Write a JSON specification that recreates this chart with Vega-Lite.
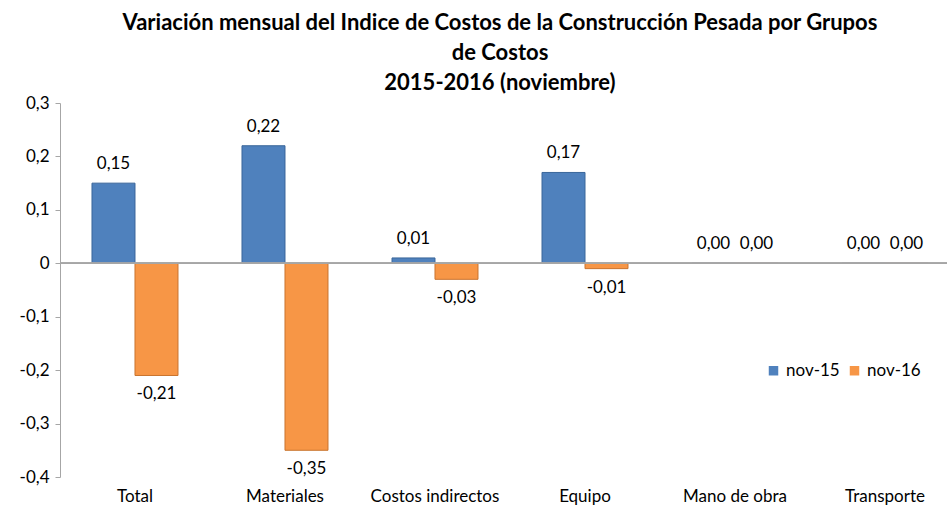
{
  "$schema": "https://vega.github.io/schema/vega-lite/v6.json",
  "autosize": "none",
  "width": 900,
  "height": 374,
  "padding": {"left": 60, "top": 103, "right": 0, "bottom": 38},
  "background": "white",
  "config": {
    "locale": {"number": {"decimal": ",", "thousands": ".", "grouping": [3], "currency": ["", ""], "minus": "-"}},
    "font": "Lato",
    "view": {"stroke": null}
  },
  "title": {
    "text": ["Variación mensual del Indice de Costos de la Construcción Pesada por Grupos", "de Costos", "2015-2016 (noviembre)"],
    "fontSize": 22,
    "fontWeight": "bold",
    "color": "#000000",
    "anchor": "middle",
    "frame": "group",
    "dx": -10,
    "dy": 6,
    "lineHeight": 30,
    "offset": 5
  },
  "data": {
    "values": [
      {"grupo": "Total", "serie": "nov-15", "valor": 0.15},
      {"grupo": "Total", "serie": "nov-16", "valor": -0.21},
      {"grupo": "Materiales", "serie": "nov-15", "valor": 0.22},
      {"grupo": "Materiales", "serie": "nov-16", "valor": -0.35},
      {"grupo": "Costos indirectos", "serie": "nov-15", "valor": 0.01},
      {"grupo": "Costos indirectos", "serie": "nov-16", "valor": -0.03},
      {"grupo": "Equipo", "serie": "nov-15", "valor": 0.17},
      {"grupo": "Equipo", "serie": "nov-16", "valor": -0.01},
      {"grupo": "Mano de obra", "serie": "nov-15", "valor": 0.0},
      {"grupo": "Mano de obra", "serie": "nov-16", "valor": 0.0},
      {"grupo": "Transporte", "serie": "nov-15", "valor": 0.0},
      {"grupo": "Transporte", "serie": "nov-16", "valor": 0.0}
    ]
  },
  "encoding": {
    "x": {
      "field": "grupo", "type": "nominal", "sort": null,
      "scale": {"paddingInner": 0.4267, "paddingOuter": 0.2133},
      "axis": {"title": null, "labelAngle": 0, "domain": false, "ticks": false, "labelFontSize": 17, "labelColor": "#000000", "labelPadding": 11}
    },
    "xOffset": {"field": "serie", "type": "nominal", "sort": ["nov-15", "nov-16"], "scale": {"paddingInner": 0, "paddingOuter": 0}},
    "y": {
      "field": "valor", "type": "quantitative",
      "scale": {"domain": [-0.4, 0.3], "nice": false, "zero": false},
      "axis": {
        "title": null, "grid": false,
        "values": [-0.4, -0.3, -0.2, -0.1, 0, 0.1, 0.2, 0.3],
        "labelExpr": "replace(format(datum.value, '.1~f'), '.', ',')",
        "labelFontSize": 17, "labelColor": "#000000", "labelPadding": 6,
        "domainColor": "#a6a6a6", "tickColor": "#a6a6a6", "tickSize": 5
      }
    }
  },
  "layer": [
    {
      "mark": {"type": "bar", "strokeWidth": 1},
      "encoding": {
        "color": {
          "field": "serie", "type": "nominal",
          "scale": {"domain": ["nov-15", "nov-16"], "range": ["#4F81BD", "#F79646"]},
          "legend": {
            "title": null, "orient": "none", "direction": "horizontal",
            "legendX": 705, "legendY": 259,
            "symbolType": "square", "symbolSize": 90, "symbolStrokeWidth": 0,
            "labelFontSize": 17, "labelColor": "#000000", "columnPadding": 6, "labelOffset": 4
          }
        },
        "stroke": {
          "field": "serie", "type": "nominal",
          "scale": {"domain": ["nov-15", "nov-16"], "range": ["#3A669A", "#C9742F"]},
          "legend": null
        }
      }
    },
    {
      "mark": {"type": "rule", "color": "#a6a6a6", "strokeWidth": 1},
      "encoding": {"y": {"datum": 0}, "x": null, "xOffset": null}
    },
    {
      "transform": [{"filter": "datum.valor >= 0"}],
      "mark": {"type": "text", "baseline": "bottom", "dy": -10, "fontSize": 17, "color": "#000000"},
      "encoding": {"text": {"field": "valor", "type": "quantitative", "format": ".2f"}}
    },
    {
      "transform": [{"filter": "datum.valor < 0"}],
      "mark": {"type": "text", "baseline": "top", "dy": 11, "fontSize": 17, "color": "#000000"},
      "encoding": {"text": {"field": "valor", "type": "quantitative", "format": ".2f"}}
    }
  ]
}
